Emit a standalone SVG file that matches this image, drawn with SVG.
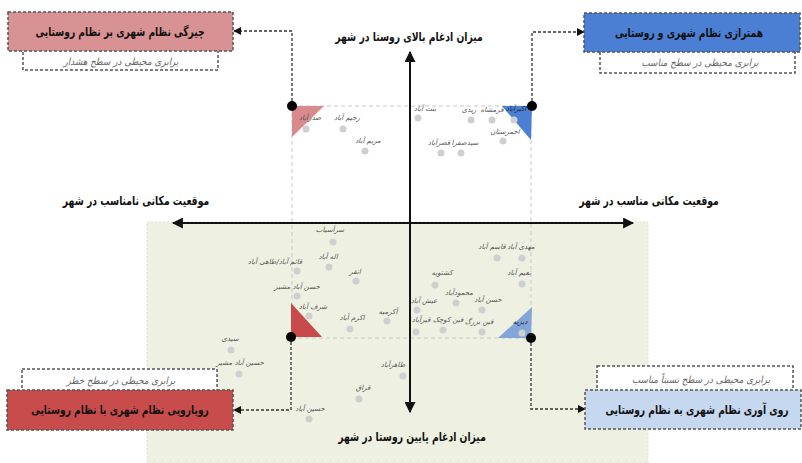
<svg xmlns="http://www.w3.org/2000/svg" width="802" height="463" viewBox="0 0 802 463">
<defs>
<style>
.t{font-family:"DejaVu Sans",sans-serif;text-anchor:middle}
.title{font-size:12.5px;font-weight:bold;fill:#111}
.sub{font-size:10px;font-style:italic;fill:#666}
.ax{font-size:12.5px;font-weight:bold;fill:#111}
.lb{font-size:7px;font-style:italic;fill:#555}
.dot{fill:#cfcfcf}
.box{stroke:#555;stroke-width:1.5;stroke-dasharray:3 2}
.conn{fill:none;stroke:#333;stroke-width:1.3;stroke-dasharray:3 2}
.axis{stroke:#111;stroke-width:2;fill:none}
.grid{stroke:#c8c8c8;stroke-width:1;stroke-dasharray:4 3;fill:none}
</style>
<marker id="arr" viewBox="0 0 10 10" refX="9" refY="5" markerWidth="8" markerHeight="8" markerUnits="userSpaceOnUse" orient="auto"><path d="M0,0 L10,5 L0,10 z" fill="#111"/></marker>
<marker id="arrb" viewBox="0 0 10 10" refX="9" refY="5" markerWidth="11" markerHeight="11" markerUnits="userSpaceOnUse" orient="auto-start-reverse"><path d="M0,0 L10,5 L0,10 z" fill="#111"/></marker>
</defs>
<rect width="802" height="463" fill="#fff"/>
<rect x="147" y="222" width="501" height="241" fill="#eef1e1" stroke="#dfe3cf" stroke-width="1" stroke-dasharray="2 2"/>
<rect class="grid" x="292" y="106" width="239" height="232"/>
<polygon points="292,106 324,106 292,137" fill="#d98a8c"/>
<polygon points="502,106 532,106 531,140" fill="#4a7fd4"/>
<polygon points="291,303 322,337 291,337" fill="#c94a4a"/>
<polygon points="532,307 531,338 498,338" fill="#82a6da"/>
<g id="axes">
<line class="axis" x1="410" y1="52" x2="410" y2="412" marker-start="url(#arrb)" marker-end="url(#arrb)"/>
<line class="axis" x1="173" y1="223" x2="633" y2="223" marker-start="url(#arrb)" marker-end="url(#arrb)"/>
<text class="t ax" transform="translate(409,41) scale(0.74,1)">میزان ادغام بالای روستا در شهر</text>
<text class="t ax" transform="translate(412,441) scale(0.74,1)">میزان ادغام پایین روستا در شهر</text>
<text class="t ax" transform="translate(136,205) scale(0.74,1)">موقعیت مکانی نامناسب در شهر</text>
<text class="t ax" transform="translate(649,205) scale(0.74,1)">موقعیت مکانی مناسب در شهر</text>
</g>
<g id="connectors">
<path class="conn" d="M292,106 V31 H234" marker-end="url(#arr)"/>
<path class="conn" d="M532,106 V32 H584" marker-end="url(#arr)"/>
<path class="conn" d="M291,337 V410 H234" marker-end="url(#arr)"/>
<path class="conn" d="M531,338 V409 H585" marker-end="url(#arr)"/>
<circle cx="292" cy="106" r="5" fill="#000"/>
<circle cx="532" cy="106" r="5" fill="#000"/>
<circle cx="291" cy="337" r="5" fill="#000"/>
<circle cx="531" cy="338" r="5" fill="#000"/>
</g>
<g id="box-dominance">
<rect class="box" x="23" y="50" width="195" height="20" fill="#fff"/>
<rect class="box" x="8" y="12" width="225" height="39" fill="#d99294"/>
<text class="t title" transform="translate(120,36) scale(0.73,1)">چیرگی نظام شهری بر نظام روستایی</text>
<text class="t sub" transform="translate(121,65) scale(0.88,1)">برابری محیطی در سطح هشدار</text>
</g>
<g id="box-parity">
<rect class="box" x="600" y="51" width="195" height="22" fill="#fff"/>
<rect class="box" x="584" y="13" width="216" height="39" fill="#4a7fd4"/>
<text class="t title" transform="translate(689,37) scale(0.73,1)">همترازی نظام شهری و روستایی</text>
<text class="t sub" transform="translate(700,66) scale(0.88,1)">برابری محیطی در سطح مناسب</text>
</g>
<g id="box-confrontation">
<rect class="box" x="22" y="369" width="195" height="22" fill="#fff"/>
<rect class="box" x="7" y="390" width="226" height="40" fill="#c94c4c"/>
<text class="t sub" transform="translate(121,384) scale(0.88,1)">برابری محیطی در سطح خطر</text>
<text class="t title" transform="translate(120,414) scale(0.73,1)">رویارویی نظام شهری با نظام روستایی</text>
</g>
<g id="box-turn">
<rect class="box" x="597" y="366" width="196" height="25" fill="#fff"/>
<rect class="box" x="585" y="390" width="216" height="39" fill="#c5d8f0"/>
<text class="t sub" transform="translate(701,383) scale(0.88,1)">برابری محیطی در سطح نسبتاً مناسب</text>
<text class="t title" transform="translate(697,414) scale(0.73,1)">روی آوری نظام شهری به نظام روستایی</text>
</g>
<g id="villages">
<g id="v1"><circle class="dot" cx="306" cy="129" r="3.5"/><text class="t lb" x="310" y="120">صدرآباد</text></g>
<g id="v2"><circle class="dot" cx="343" cy="129" r="3.5"/><text class="t lb" x="347" y="120">رحیم آباد</text></g>
<g id="v3"><circle class="dot" cx="365" cy="151" r="3.5"/><text class="t lb" x="368" y="143">مریم آباد</text></g>
<g id="v4"><circle class="dot" cx="418" cy="118" r="3.5"/><text class="t lb" x="425" y="111">بنت آباد</text></g>
<g id="v5"><circle class="dot" cx="471" cy="120" r="3.5"/><text class="t lb" x="469" y="112">زیدی</text></g>
<g id="v6"><circle class="dot" cx="492" cy="120" r="3.5"/><text class="t lb" x="492" y="112">قرمشاه</text></g>
<g id="v7"><circle class="dot" cx="514" cy="120" r="3.5"/><text class="t lb" x="516" y="111" style="fill:#223">اکبرآباد</text></g>
<g id="v8"><circle class="dot" cx="503" cy="141" r="3.5"/><text class="t lb" x="505" y="134">احمرستان</text></g>
<g id="v9"><circle class="dot" cx="441" cy="153" r="3.5"/><text class="t lb" x="439" y="145">قصرآباد</text></g>
<g id="v10"><circle class="dot" cx="461" cy="153" r="3.5"/><text class="t lb" x="465" y="145">سیدصفرا</text></g>
<g id="v11"><circle class="dot" cx="333" cy="242" r="3.5"/><text class="t lb" x="330" y="232">سرآسیاب</text></g>
<g id="v12"><circle class="dot" cx="329" cy="267" r="3.5"/><text class="t lb" x="328" y="259">اله آباد</text></g>
<g id="v13"><circle class="dot" cx="297" cy="271" r="3.5"/><text class="t lb" x="275" y="264">قائم آباد/طاهی آباد</text></g>
<g id="v14"><circle class="dot" cx="356" cy="281" r="3.5"/><text class="t lb" x="355" y="274">انقر</text></g>
<g id="v15"><circle class="dot" cx="297" cy="296" r="3.5"/><text class="t lb" x="297" y="289">حسن آباد مشیر</text></g>
<g id="v16"><circle class="dot" cx="309" cy="316" r="3.5"/><text class="t lb" x="313" y="309">شرف آباد</text></g>
<g id="v17"><circle class="dot" cx="350" cy="329" r="3.5"/><text class="t lb" x="352" y="320">اکرم آباد</text></g>
<g id="v18"><circle class="dot" cx="387" cy="321" r="3.5"/><text class="t lb" x="388" y="314">آکرمیه</text></g>
<g id="v19"><circle class="dot" cx="522" cy="258" r="3.5"/><text class="t lb" x="521" y="249">مهدی آباد</text></g>
<g id="v20"><circle class="dot" cx="497" cy="258" r="3.5"/><text class="t lb" x="492" y="249">قاسم آباد</text></g>
<g id="v21"><circle class="dot" cx="522" cy="284" r="3.5"/><text class="t lb" x="519" y="275">نعیم آباد</text></g>
<g id="v22"><circle class="dot" cx="435" cy="285" r="3.5"/><text class="t lb" x="442" y="275">کشتویه</text></g>
<g id="v23"><circle class="dot" cx="456" cy="303" r="3.5"/><text class="t lb" x="459" y="295">محمودآباد</text></g>
<g id="v24"><circle class="dot" cx="417" cy="310" r="3.5"/><text class="t lb" x="424" y="303">عیش آباد</text></g>
<g id="v25"><circle class="dot" cx="482" cy="310" r="3.5"/><text class="t lb" x="488" y="302">حسن آباد</text></g>
<g id="v26"><circle class="dot" cx="416" cy="332" r="3.5"/><text class="t lb" x="421" y="322">قیرآباد</text></g>
<g id="v27"><circle class="dot" cx="443" cy="330" r="3.5"/><text class="t lb" x="448" y="322">فین کوچک</text></g>
<g id="v28"><circle class="dot" cx="482" cy="332" r="3.5"/><text class="t lb" x="479" y="324">فین بزرگ</text></g>
<g id="v29"><circle class="dot" cx="522" cy="333" r="3.5"/><text class="t lb" x="520" y="324" style="fill:#223">دیزیه</text></g>
<g id="v30"><circle class="dot" cx="231" cy="350" r="3.5"/><text class="t lb" x="230" y="341">سیدی</text></g>
<g id="v31"><circle class="dot" cx="239" cy="374" r="3.5"/><text class="t lb" x="240" y="365">حسین آباد مشیر</text></g>
<g id="v32"><circle class="dot" cx="359" cy="399" r="3.5"/><text class="t lb" x="363" y="390">قزاق</text></g>
<g id="v33"><circle class="dot" cx="403" cy="376" r="3.5"/><text class="t lb" x="393" y="367">طاهرآباد</text></g>
<g id="v34"><circle class="dot" cx="309" cy="419" r="3.5"/><text class="t lb" x="310" y="411">حسین آباد</text></g>
</g>
</svg>
